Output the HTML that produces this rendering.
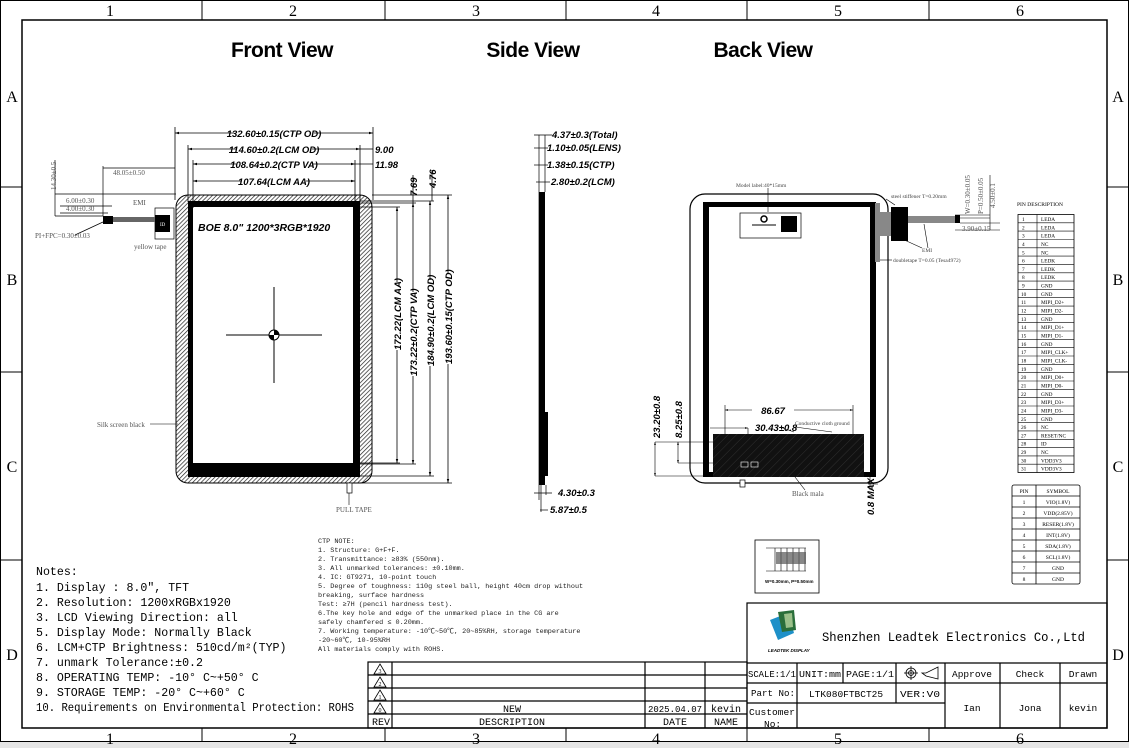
<!DOCTYPE html>
<html><head><meta charset="utf-8"><style>
html,body{margin:0;padding:0;background:#fff}
svg{display:block}
.m{font-family:"Liberation Mono","Noto Sans CJK SC",monospace}
.s{font-family:"Liberation Serif","Noto Serif CJK SC",serif}
.d{font-family:"Liberation Sans",sans-serif;font-weight:bold;font-style:italic}
</style></head><body>
<svg width="1129" height="748" viewBox="0 0 1129 748" xmlns="http://www.w3.org/2000/svg">
<defs>
<pattern id="h" width="3" height="3" patternUnits="userSpaceOnUse" patternTransform="rotate(45)"><rect width="3" height="3" fill="#fff"/><line x1="0" y1="0" x2="0" y2="3" stroke="#222" stroke-width="1.4"/></pattern>
<pattern id="h2" width="6" height="6" patternUnits="userSpaceOnUse" patternTransform="rotate(45)"><rect width="6" height="6" fill="#111"/><line x1="0" y1="0" x2="0" y2="6" stroke="#444" stroke-width="0.6"/></pattern>
<marker id="a" viewBox="0 0 10 10" refX="10" refY="5" markerWidth="5" markerHeight="5" orient="auto-start-reverse"><path d="M0,2 L10,5 L0,8z" fill="#000"/></marker>
</defs>
<rect width="1129" height="748" fill="#fff"/>
<rect x="0" y="742" width="1129" height="6" fill="#e6e6e6"/>
<rect x="0.5" y="0.5" width="1128" height="741" fill="none" stroke="#000"/>
<rect x="22" y="20" width="1085" height="708" fill="none" stroke="#000" stroke-width="1.5"/>
<g stroke="#000">
<line x1="202" y1="0" x2="202" y2="20"/><line x1="385" y1="0" x2="385" y2="20"/><line x1="566" y1="0" x2="566" y2="20"/><line x1="747" y1="0" x2="747" y2="20"/><line x1="929" y1="0" x2="929" y2="20"/>
<line x1="202" y1="728" x2="202" y2="742"/><line x1="385" y1="728" x2="385" y2="742"/><line x1="566" y1="728" x2="566" y2="742"/><line x1="747" y1="728" x2="747" y2="742"/><line x1="929" y1="728" x2="929" y2="742"/>
<line x1="0" y1="187" x2="22" y2="187"/><line x1="0" y1="372" x2="22" y2="372"/><line x1="0" y1="560" x2="22" y2="560"/>
<line x1="1107" y1="187" x2="1129" y2="187"/><line x1="1107" y1="372" x2="1129" y2="372"/><line x1="1107" y1="560" x2="1129" y2="560"/>
</g>
<g class="s" font-size="16" text-anchor="middle">
<text x="110" y="16">1</text><text x="293" y="16">2</text><text x="476" y="16">3</text><text x="656" y="16">4</text><text x="838" y="16">5</text><text x="1020" y="16">6</text>
<text x="110" y="744">1</text><text x="293" y="744">2</text><text x="476" y="744">3</text><text x="656" y="744">4</text><text x="838" y="744">5</text><text x="1020" y="744">6</text>
<text x="12" y="102">A</text><text x="12" y="285">B</text><text x="12" y="472">C</text><text x="12" y="660">D</text>
<text x="1118" y="102">A</text><text x="1118" y="285">B</text><text x="1118" y="472">C</text><text x="1118" y="660">D</text>
</g>
<g font-family="Liberation Sans,sans-serif" font-weight="bold" font-size="21" text-anchor="middle" letter-spacing="-0.5">
<text x="282" y="57">Front View</text><text x="533" y="57">Side View</text><text x="763" y="57">Back View</text>
</g>

<!-- FRONT VIEW -->
<rect x="176" y="195" width="196" height="288" rx="12" fill="url(#h)" stroke="#000"/>
<rect x="188" y="201" width="172" height="276" fill="#000"/>
<rect x="193" y="207" width="160" height="256" fill="#fff"/>
<g stroke="#000" stroke-width="1">
<line x1="226" y1="335" x2="322" y2="335"/><line x1="274" y1="287" x2="274" y2="383"/>
</g>
<circle cx="274" cy="335" r="5" fill="#fff" stroke="#000"/>
<path d="M274,330 A5,5 0 0 1 279,335 L274,335z M274,340 A5,5 0 0 1 269,335 L274,335z" fill="#000"/>
<text x="198" y="231" class="d" font-size="10.5">BOE 8.0"  1200*3RGB*1920</text>
<g stroke="#000" stroke-width="0.8" fill="none">
<line x1="175" y1="127" x2="175" y2="200"/><line x1="373" y1="127" x2="373" y2="200"/>
<line x1="175" y1="133" x2="373" y2="133" marker-start="url(#a)" marker-end="url(#a)"/>
<line x1="188" y1="145" x2="188" y2="202"/><line x1="360" y1="145" x2="360" y2="202"/>
<line x1="188" y1="149" x2="360" y2="149" marker-start="url(#a)" marker-end="url(#a)"/>
<line x1="193" y1="160" x2="193" y2="208"/><line x1="355" y1="160" x2="355" y2="208"/>
<line x1="193" y1="164" x2="355" y2="164" marker-start="url(#a)" marker-end="url(#a)"/>
<line x1="193" y1="181" x2="355" y2="181" marker-start="url(#a)" marker-end="url(#a)"/>
<line x1="360" y1="149" x2="373" y2="149"/><line x1="355" y1="164" x2="373" y2="164"/>
<line x1="372" y1="195" x2="452" y2="195"/><line x1="360" y1="201" x2="434" y2="201"/><line x1="360" y1="203" x2="416" y2="203"/><line x1="353" y1="207" x2="400" y2="207"/>
<line x1="353" y1="463" x2="400" y2="463"/><line x1="353" y1="464" x2="416" y2="464"/><line x1="360" y1="476" x2="434" y2="476"/><line x1="360" y1="483" x2="452" y2="483"/>
<line x1="397" y1="207" x2="397" y2="463" marker-start="url(#a)" marker-end="url(#a)"/>
<line x1="413" y1="203" x2="413" y2="464" marker-start="url(#a)" marker-end="url(#a)"/>
<line x1="430" y1="201" x2="430" y2="476" marker-start="url(#a)" marker-end="url(#a)"/>
<line x1="448" y1="195" x2="448" y2="483" marker-start="url(#a)" marker-end="url(#a)"/>
<line x1="413" y1="175" x2="413" y2="203"/><line x1="432" y1="170" x2="432" y2="201"/>
</g>
<g class="d" font-size="9.5">
<rect x="234" y="127" width="80" height="11" fill="#fff"/><text x="274" y="137" text-anchor="middle">132.60±0.15(CTP OD)</text>
<rect x="236" y="143" width="76" height="11" fill="#fff"/><text x="274" y="153" text-anchor="middle">114.60±0.2(LCM OD)</text>
<rect x="236" y="158" width="76" height="11" fill="#fff"/><text x="274" y="168" text-anchor="middle">108.64±0.2(CTP VA)</text>
<rect x="242" y="175" width="64" height="11" fill="#fff"/><text x="274" y="185" text-anchor="middle">107.64(LCM AA)</text>
<text x="375" y="153">9.00</text><text x="375" y="168">11.98</text>
<text transform="translate(417,196) rotate(-90)">7.69</text><text transform="translate(436,188) rotate(-90)">4.76</text>
<g fill="#000"><rect x="391" y="282" width="12" height="68" fill="#fff"/><text transform="translate(401,350) rotate(-90)">172.22(LCM AA)</text>
<rect x="407" y="292" width="12" height="84" fill="#fff"/><text transform="translate(417,376) rotate(-90)">173.22±0.2(CTP VA)</text>
<rect x="424" y="280" width="12" height="86" fill="#fff"/><text transform="translate(434,366) rotate(-90)">184.90±0.2(LCM OD)</text>
<rect x="442" y="274" width="12" height="90" fill="#fff"/><text transform="translate(452,364) rotate(-90)">193.60±0.15(CTP OD)</text></g>
</g>
<g stroke="#000" stroke-width="0.7" fill="none">
<line x1="103" y1="166" x2="103" y2="216"/><line x1="103" y1="168" x2="175" y2="168"/>
<line x1="55" y1="194" x2="176" y2="194"/><line x1="55" y1="160" x2="55" y2="216"/>
<line x1="55" y1="216" x2="103" y2="216"/><line x1="60" y1="206" x2="112" y2="206"/><line x1="60" y1="213" x2="108" y2="213"/>
<rect x="155" y="208" width="19" height="31"/>
<line x1="103" y1="222" x2="75" y2="235"/>
</g>
<rect x="103" y="216" width="10" height="8" fill="#000"/>
<rect x="113" y="217" width="42" height="5" fill="#666"/>
<rect x="155" y="215" width="15" height="17" fill="#000"/>
<text x="160" y="226" fill="#fff" font-size="5" class="s">ID</text>
<g class="s" font-size="7" fill="#555">
<text transform="translate(56,190) rotate(-90)">14.30±0.5</text>
<text x="113" y="175">48.05±0.50</text>
<text x="66" y="203">6.00±0.30</text><text x="66" y="211">4.00±0.30</text>
<text x="35" y="238">PI+FPC=0.30±0.03</text>
<text x="133" y="205">EMI</text><text x="134" y="249">yellow tape</text>
<text x="97" y="427">Silk screen black</text><text x="336" y="512">PULL TAPE</text>
</g>
<line x1="150" y1="424" x2="178" y2="424" stroke="#000" stroke-width="0.6"/>
<rect x="347" y="483" width="5" height="10" fill="#fff" stroke="#000" stroke-width="0.7"/>
<line x1="349" y1="493" x2="349" y2="505" stroke="#000" stroke-width="0.6"/>

<!-- SIDE VIEW -->
<rect x="539" y="192" width="6" height="293" fill="#000"/>
<rect x="545" y="412" width="3" height="64" fill="#000"/>
<g stroke="#000" stroke-width="0.7">
<line x1="539" y1="135" x2="539" y2="500"/><line x1="545" y1="135" x2="545" y2="192"/>
<line x1="534" y1="135" x2="552" y2="135"/><line x1="534" y1="148" x2="548" y2="148"/><line x1="534" y1="165" x2="548" y2="165"/><line x1="536" y1="182" x2="550" y2="182"/>
<line x1="534" y1="493" x2="552" y2="493"/><line x1="540" y1="510" x2="548" y2="510"/><line x1="541" y1="485" x2="541" y2="512"/><line x1="546" y1="485" x2="546" y2="495"/>
</g>
<g class="d" font-size="9.5">
<text x="552" y="138">4.37±0.3(Total)</text><text x="547" y="151">1.10±0.05(LENS)</text><text x="547" y="168">1.38±0.15(CTP)</text><text x="551" y="185">2.80±0.2(LCM)</text>
<text x="558" y="496">4.30±0.3</text><text x="550" y="513">5.87±0.5</text>
</g>

<!-- BACK VIEW -->
<rect x="690" y="194" width="198" height="289" rx="15" fill="#fff" stroke="#000" stroke-width="1.2"/>
<rect x="703" y="202" width="173" height="275" fill="#000"/>
<rect x="709" y="207" width="161" height="227" fill="#fff"/>
<rect x="709" y="434" width="161" height="38" fill="#fff"/>
<rect x="713" y="434" width="151" height="43" fill="url(#h2)"/>
<rect x="740" y="480" width="5" height="7" fill="#fff" stroke="#000" stroke-width="0.7"/>
<rect x="740" y="213" width="61" height="25" fill="#fff" stroke="#000" stroke-width="0.7"/>
<rect x="781" y="216" width="16" height="16" fill="#000"/>
<circle cx="764" cy="219" r="3" fill="none" stroke="#000" stroke-width="1.5"/>
<line x1="752" y1="225" x2="776" y2="225" stroke="#000"/>
<rect x="741" y="462" width="7" height="5" fill="none" stroke="#fff" stroke-width="0.6"/><rect x="751" y="462" width="7" height="5" fill="none" stroke="#fff" stroke-width="0.6"/>
<rect x="875" y="203" width="5" height="59" fill="#888"/>
<rect x="891" y="207" width="17" height="34" fill="#000"/>
<rect x="880" y="212" width="11" height="24" fill="#888"/>
<rect x="908" y="216" width="47" height="7" fill="#888"/>
<rect x="955" y="215" width="5" height="8" fill="#000"/>
<g stroke="#000" stroke-width="0.6" fill="none">
<line x1="768" y1="188" x2="768" y2="212"/><line x1="895" y1="205" x2="886" y2="199"/>
<line x1="924" y1="224" x2="928" y2="248"/><line x1="900" y1="238" x2="922" y2="248"/><line x1="880" y1="260" x2="892" y2="260"/>
<line x1="955" y1="215" x2="990" y2="215"/><line x1="957" y1="218" x2="990" y2="218"/><line x1="960" y1="223" x2="1000" y2="223"/>
<line x1="955" y1="230" x2="1000" y2="230"/><line x1="990" y1="175" x2="990" y2="230"/>
<line x1="725" y1="410" x2="853" y2="410" marker-start="url(#a)" marker-end="url(#a)"/>
<line x1="725" y1="405" x2="725" y2="434"/><line x1="853" y1="405" x2="853" y2="434"/>
<line x1="710" y1="428" x2="748" y2="428" marker-end="url(#a)"/><line x1="748" y1="428" x2="748" y2="434"/>
<line x1="655" y1="442" x2="713" y2="442"/><line x1="678" y1="463" x2="713" y2="463"/><line x1="655" y1="476" x2="703" y2="476"/>
<line x1="655" y1="442" x2="655" y2="476" marker-start="url(#a)" marker-end="url(#a)"/>
<line x1="678" y1="442" x2="678" y2="463" marker-start="url(#a)" marker-end="url(#a)"/>
<line x1="780" y1="427" x2="794" y2="432"/><line x1="795" y1="427" x2="832" y2="432"/>
<line x1="795" y1="477" x2="805" y2="490"/><line x1="868" y1="484" x2="878" y2="484"/><line x1="870" y1="476" x2="870" y2="490"/>
</g>
<g class="d" font-size="9.5">
<rect x="752" y="405" width="42" height="11" fill="#fff"/><text x="773" y="414" text-anchor="middle">86.67</text>
<text x="755" y="431">30.43±0.8</text>
<text transform="translate(660,438) rotate(-90)">23.20±0.8</text><text transform="translate(682,438) rotate(-90)">8.25±0.8</text>
<text transform="translate(874,515) rotate(-90)">0.8 MAX</text>
</g>
<g class="s" font-size="5.5" fill="#444">
<text x="736" y="187">Model label:40*15mm</text><text x="891" y="198">steel stiffener T=0.20mm</text>
<text x="922" y="252">EMI</text><text x="893" y="262">doubletape T=0.05 (Tesa4972)</text>
<text x="795" y="425">Conductive cloth ground</text>
</g>
<g class="s" font-size="7" fill="#555">
<text x="792" y="496">Black mala</text>
<text transform="translate(970,214) rotate(-90)">W=0.30±0.05</text><text transform="translate(983,214) rotate(-90)">P=0.50±0.05</text><text transform="translate(995,208) rotate(-90)">4.50±0.1</text>
<text x="962" y="231">3.90±0.15</text>
</g>

<!-- PIN TABLE -->
<text x="1017" y="206" class="s" font-size="5.5">PIN DESCRIPTION</text>
<rect x="1018" y="214.5" width="56" height="258" fill="none" stroke="#000" stroke-width="0.8"/>
<line x1="1037" y1="214.5" x2="1037" y2="472.5" stroke="#000" stroke-width="0.6"/>
<g stroke="#000" stroke-width="0.6">
<line x1="1018" y1="222.8" x2="1074" y2="222.8"/><line x1="1018" y1="231.1" x2="1074" y2="231.1"/><line x1="1018" y1="239.5" x2="1074" y2="239.5"/><line x1="1018" y1="247.8" x2="1074" y2="247.8"/><line x1="1018" y1="256.1" x2="1074" y2="256.1"/><line x1="1018" y1="264.4" x2="1074" y2="264.4"/><line x1="1018" y1="272.8" x2="1074" y2="272.8"/><line x1="1018" y1="281.1" x2="1074" y2="281.1"/><line x1="1018" y1="289.4" x2="1074" y2="289.4"/><line x1="1018" y1="297.7" x2="1074" y2="297.7"/><line x1="1018" y1="306.1" x2="1074" y2="306.1"/><line x1="1018" y1="314.4" x2="1074" y2="314.4"/><line x1="1018" y1="322.7" x2="1074" y2="322.7"/><line x1="1018" y1="331" x2="1074" y2="331"/><line x1="1018" y1="339.4" x2="1074" y2="339.4"/><line x1="1018" y1="347.7" x2="1074" y2="347.7"/><line x1="1018" y1="356" x2="1074" y2="356"/><line x1="1018" y1="364.3" x2="1074" y2="364.3"/><line x1="1018" y1="372.7" x2="1074" y2="372.7"/><line x1="1018" y1="381" x2="1074" y2="381"/><line x1="1018" y1="389.3" x2="1074" y2="389.3"/><line x1="1018" y1="397.6" x2="1074" y2="397.6"/><line x1="1018" y1="406" x2="1074" y2="406"/><line x1="1018" y1="414.3" x2="1074" y2="414.3"/><line x1="1018" y1="422.6" x2="1074" y2="422.6"/><line x1="1018" y1="430.9" x2="1074" y2="430.9"/><line x1="1018" y1="439.3" x2="1074" y2="439.3"/><line x1="1018" y1="447.6" x2="1074" y2="447.6"/><line x1="1018" y1="455.9" x2="1074" y2="455.9"/><line x1="1018" y1="464.2" x2="1074" y2="464.2"/>
</g>
<g class="s" font-size="5.3">
<text x="1022" y="221">1</text><text x="1041" y="221">LEDA</text>
<text x="1022" y="229.3">2</text><text x="1041" y="229.3">LEDA</text>
<text x="1022" y="237.6">3</text><text x="1041" y="237.6">LEDA</text>
<text x="1022" y="245.9">4</text><text x="1041" y="245.9">NC</text>
<text x="1022" y="254.3">5</text><text x="1041" y="254.3">NC</text>
<text x="1022" y="262.6">6</text><text x="1041" y="262.6">LEDK</text>
<text x="1022" y="270.9">7</text><text x="1041" y="270.9">LEDK</text>
<text x="1022" y="279.2">8</text><text x="1041" y="279.2">LEDK</text>
<text x="1022" y="287.6">9</text><text x="1041" y="287.6">GND</text>
<text x="1021" y="295.9">10</text><text x="1041" y="295.9">GND</text>
<text x="1021" y="304.2">11</text><text x="1041" y="304.2">MIPI_D2+</text>
<text x="1021" y="312.5">12</text><text x="1041" y="312.5">MIPI_D2-</text>
<text x="1021" y="320.9">13</text><text x="1041" y="320.9">GND</text>
<text x="1021" y="329.2">14</text><text x="1041" y="329.2">MIPI_D1+</text>
<text x="1021" y="337.5">15</text><text x="1041" y="337.5">MIPI_D1-</text>
<text x="1021" y="345.8">16</text><text x="1041" y="345.8">GND</text>
<text x="1021" y="354.2">17</text><text x="1041" y="354.2">MIPI_CLK+</text>
<text x="1021" y="362.5">18</text><text x="1041" y="362.5">MIPI_CLK-</text>
<text x="1021" y="370.8">19</text><text x="1041" y="370.8">GND</text>
<text x="1021" y="379.1">20</text><text x="1041" y="379.1">MIPI_D0+</text>
<text x="1021" y="387.5">21</text><text x="1041" y="387.5">MIPI_D0-</text>
<text x="1021" y="395.8">22</text><text x="1041" y="395.8">GND</text>
<text x="1021" y="404.1">23</text><text x="1041" y="404.1">MIPI_D3+</text>
<text x="1021" y="412.4">24</text><text x="1041" y="412.4">MIPI_D3-</text>
<text x="1021" y="420.8">25</text><text x="1041" y="420.8">GND</text>
<text x="1021" y="429.1">26</text><text x="1041" y="429.1">NC</text>
<text x="1021" y="437.4">27</text><text x="1041" y="437.4">RESET/NC</text>
<text x="1021" y="445.7">28</text><text x="1041" y="445.7">ID</text>
<text x="1021" y="454.1">29</text><text x="1041" y="454.1">NC</text>
<text x="1021" y="462.4">30</text><text x="1041" y="462.4">VDD3V3</text>
<text x="1021" y="470.7">31</text><text x="1041" y="470.7">VDD3V3</text>
</g>
<g stroke="#000" stroke-width="0.8" fill="none">
<rect x="1012" y="485" width="68" height="99" rx="2"/>
<line x1="1036" y1="485" x2="1036" y2="584"/>
<line x1="1012" y1="496" x2="1080" y2="496"/><line x1="1012" y1="507" x2="1080" y2="507"/><line x1="1012" y1="518" x2="1080" y2="518"/><line x1="1012" y1="529" x2="1080" y2="529"/><line x1="1012" y1="540" x2="1080" y2="540"/><line x1="1012" y1="551" x2="1080" y2="551"/><line x1="1012" y1="562" x2="1080" y2="562"/><line x1="1012" y1="573" x2="1080" y2="573"/>
</g>
<g class="s" font-size="5.5" text-anchor="middle">
<text x="1024" y="493">PIN</text><text x="1058" y="493">SYMBOL</text>
<text x="1024" y="504">1</text><text x="1058" y="504">VIO(1.8V)</text>
<text x="1024" y="515">2</text><text x="1058" y="515">VDD(2.85V)</text>
<text x="1024" y="526">3</text><text x="1058" y="526">RESER(1.8V)</text>
<text x="1024" y="537">4</text><text x="1058" y="537">INT(1.8V)</text>
<text x="1024" y="548">5</text><text x="1058" y="548">SDA(1.8V)</text>
<text x="1024" y="559">6</text><text x="1058" y="559">SCL(1.8V)</text>
<text x="1024" y="570">7</text><text x="1058" y="570">GND</text>
<text x="1024" y="581">8</text><text x="1058" y="581">GND</text>
</g>
<rect x="755" y="540" width="64" height="53" fill="#fff" stroke="#000" stroke-width="0.8"/>
<g stroke="#000" stroke-width="0.6">
<line x1="766" y1="548" x2="806" y2="548"/><line x1="766" y1="571" x2="806" y2="571"/>
<line x1="775" y1="548" x2="775" y2="571"/><line x1="781" y1="548" x2="781" y2="571"/><line x1="787" y1="548" x2="787" y2="571"/><line x1="793" y1="548" x2="793" y2="571"/><line x1="799" y1="548" x2="799" y2="571"/><line x1="805" y1="548" x2="805" y2="571"/>
</g>
<rect x="776" y="552" width="30" height="12" fill="#555" opacity="0.7"/>
<text x="765" y="583" font-size="4.5" font-weight="bold" font-family="Liberation Sans,sans-serif">W=0.30mm, P=0.50mm</text>

<!-- NOTES -->
<g class="m" font-size="11.6">
<text x="36" y="575">Notes:</text>
<text x="36" y="591">1. Display : 8.0",  TFT</text>
<text x="36" y="606">2. Resolution: 1200xRGBx1920</text>
<text x="36" y="621">3. LCD Viewing Direction: all</text>
<text x="36" y="636">5. Display Mode: Normally Black</text>
<text x="36" y="651">6. LCM+CTP Brightness: 510cd/m²(TYP)</text>
<text x="36" y="666">7. unmark Tolerance:±0.2</text>
<text x="36" y="681">8. OPERATING TEMP: -10° C~+50° C</text>
<text x="36" y="696">9. STORAGE TEMP: -20° C~+60° C</text>
<text x="36" y="711" textLength="318" lengthAdjust="spacingAndGlyphs">10. Requirements on Environmental Protection: ROHS</text>
</g>
<g class="m" font-size="6.8" fill="#222">
<text x="318" y="543">CTP NOTE:</text>
<text x="318" y="552">1. Structure: G+F+F.</text>
<text x="318" y="561">2. Transmittance: ≥83% (550nm).</text>
<text x="318" y="570">3. All unmarked tolerances: ±0.10mm.</text>
<text x="318" y="579">4. IC: GT9271, 10-point touch</text>
<text x="318" y="588">5. Degree of toughness: 110g steel ball, height 40cm drop without</text>
<text x="318" y="597">breaking, surface hardness</text>
<text x="318" y="606">  Test: ≥7H (pencil hardness test).</text>
<text x="318" y="615">6.The key hole and edge of the unmarked place in the CG are</text>
<text x="318" y="624">safely chamfered ≤ 0.20mm.</text>
<text x="318" y="633">7. Working temperature: -10℃~50℃, 20~85%RH, storage temperature</text>
<text x="318" y="642">-20~60℃, 10-95%RH</text>
<text x="318" y="651">  All materials comply with ROHS.</text>
</g>

<!-- REVISION BLOCK -->
<g stroke="#000" stroke-width="1.2" fill="none">
<rect x="368" y="662" width="379" height="66"/>
<line x1="368" y1="675" x2="747" y2="675"/><line x1="368" y1="688" x2="747" y2="688"/><line x1="368" y1="701" x2="747" y2="701"/><line x1="368" y1="714" x2="747" y2="714"/>
<line x1="392" y1="662" x2="392" y2="728"/><line x1="645" y1="662" x2="645" y2="728"/><line x1="705" y1="662" x2="705" y2="728"/>
</g>
<g stroke="#000" stroke-width="0.8" fill="none">
<path d="M380,664 L386,674 L374,674z"/><path d="M380,677 L386,687 L374,687z"/><path d="M380,690 L386,700 L374,700z"/><path d="M380,703 L386,713 L374,713z"/>
</g>
<g class="s" font-size="6" text-anchor="middle"><text x="380" y="673">3</text><text x="380" y="686">2</text><text x="380" y="699">1</text><text x="380" y="712">0</text></g>
<g class="m" font-size="10" text-anchor="middle">
<text x="512" y="712">NEW</text><text x="675" y="712" font-size="9">2025.04.07</text><text x="726" y="712">kevin</text>
<text x="381" y="725">REV</text><text x="512" y="725">DESCRIPTION</text><text x="675" y="725">DATE</text><text x="726" y="725">NAME</text>
</g>

<!-- TITLE BLOCK -->
<g stroke="#000" stroke-width="1.2" fill="none">
<rect x="747" y="603" width="360" height="125"/>
<line x1="747" y1="663" x2="1107" y2="663"/><line x1="747" y1="683" x2="945" y2="683"/><line x1="945" y1="683" x2="1107" y2="683"/><line x1="747" y1="703" x2="945" y2="703"/>
<line x1="797" y1="663" x2="797" y2="728"/><line x1="843" y1="663" x2="843" y2="683"/><line x1="896" y1="663" x2="896" y2="703"/><line x1="945" y1="663" x2="945" y2="728"/><line x1="1000" y1="663" x2="1000" y2="728"/><line x1="1060" y1="663" x2="1060" y2="728"/>
</g>
<g stroke="#000" stroke-width="0.8" fill="none">
<circle cx="911" cy="673" r="5"/><circle cx="911" cy="673" r="2.5"/><line x1="904" y1="673" x2="918" y2="673"/><line x1="911" y1="666" x2="911" y2="680"/>
<path d="M922,673 L926,673 L938,667 L938,679 L926,676z"/>
</g>
<path d="M770,620 L788,613 L794,633 L778,640z" fill="#1e90c8"/>
<path d="M778,612 L794,610 L796,630 L782,632z" fill="#2a6e3a"/>
<path d="M784,614 L792,613 L793,627 L786,628z" fill="#9bc08a"/>
<text x="768" y="652" font-size="4.5" font-weight="bold" font-style="italic" font-family="Liberation Sans,sans-serif">LEADTEK DISPLAY</text>
<text x="822" y="641" class="m" font-size="13" textLength="263" lengthAdjust="spacingAndGlyphs">Shenzhen Leadtek Electronics Co.,Ltd</text>
<g class="m" font-size="9.5">
<text x="748" y="677" textLength="48" lengthAdjust="spacingAndGlyphs">SCALE:1/1</text><text x="799" y="677" textLength="42" lengthAdjust="spacingAndGlyphs">UNIT:mm</text><text x="846" y="677" textLength="48" lengthAdjust="spacingAndGlyphs">PAGE:1/1</text>
<text x="972" y="677" text-anchor="middle">Approve</text><text x="1030" y="677" text-anchor="middle">Check</text><text x="1083" y="677" text-anchor="middle">Drawn</text>
<text x="751" y="696" textLength="44" lengthAdjust="spacingAndGlyphs">Part No:</text><text x="846" y="697" text-anchor="middle">LTK080FTBCT25</text><text x="900" y="697" textLength="40" lengthAdjust="spacingAndGlyphs">VER:V0</text>
<text x="749" y="715" textLength="46" lengthAdjust="spacingAndGlyphs">Customer</text><text x="764" y="727">No:</text>
<text x="972" y="711" text-anchor="middle">Ian</text><text x="1030" y="711" text-anchor="middle">Jona</text><text x="1083" y="711" text-anchor="middle">kevin</text>
</g>
</svg>
</body></html>
